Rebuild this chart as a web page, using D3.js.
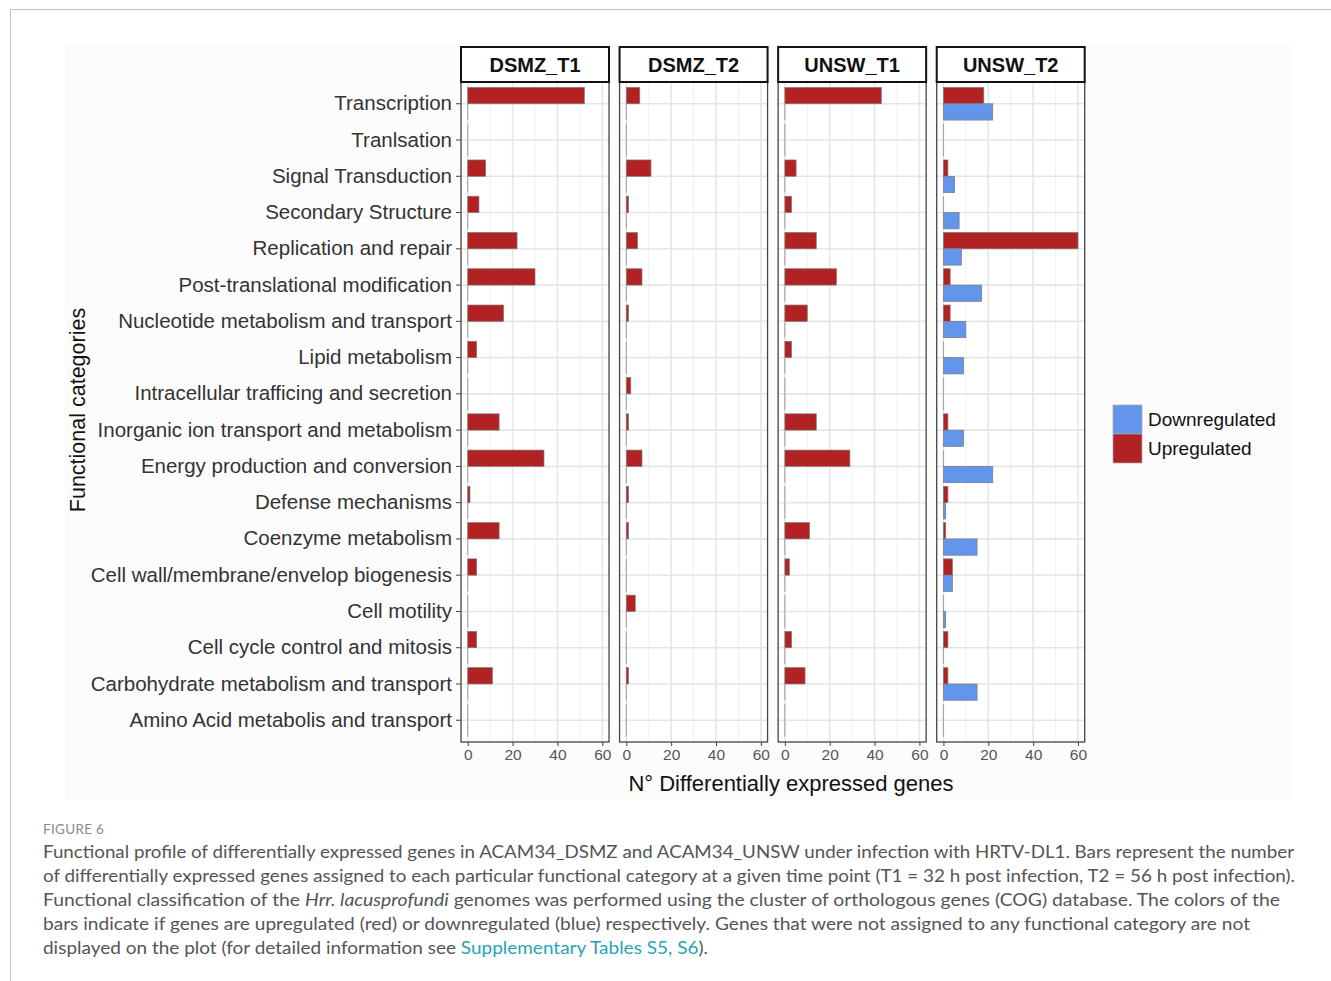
<!DOCTYPE html>
<html>
<head>
<meta charset="utf-8">
<script src="https://cdn.jsdelivr.net/npm/d3@7"></script>
<style>
  body { margin: 0; background: #fff; }
  svg { display: block; }
</style>
</head>
<body>
<svg id="chart" width="1331" height="981"></svg>
<script>
// categories, top to bottom as drawn
const categories = [
  "Transcription", "Tranlsation", "Signal Transduction", "Secondary Structure",
  "Replication and repair", "Post-translational modification",
  "Nucleotide metabolism and transport", "Lipid metabolism",
  "Intracellular trafficing and secretion", "Inorganic ion transport and metabolism",
  "Energy production and conversion", "Defense mechanisms", "Coenzyme metabolism",
  "Cell wall/membrane/envelop biogenesis", "Cell motility",
  "Cell cycle control and mitosis", "Carbohydrate metabolism and transport",
  "Amino Acid metabolis and transport"
];
const panels = ["DSMZ_T1", "DSMZ_T2", "UNSW_T1", "UNSW_T2"];
const groups = ["Upregulated", "Downregulated"];
const xTicks = [0, 20, 40, 60];

// values per panel, same order as categories
const dsmzT1Up   = [52, 0, 8, 5, 22, 30, 16, 4, 0, 14, 34, 1, 14, 4, 0, 4, 11, 0];
const dsmzT1Down = [0, 0, 0, 0, 0, 0, 0, 0, 0, 0, 0, 0, 0, 0, 0, 0, 0, 0];
const dsmzT2Up   = [6, 0, 11, 1, 5, 7, 1, 0, 2, 1, 7, 1, 1, 0, 4, 0, 1, 0];
const dsmzT2Down = [0, 0, 0, 0, 0, 0, 0, 0, 0, 0, 0, 0, 0, 0, 0, 0, 0, 0];
const unswT1Up   = [43, 0, 5, 3, 14, 23, 10, 3, 0, 14, 29, 0, 11, 2, 0, 3, 9, 0];
const unswT1Down = [0, 0, 0, 0, 0, 0, 0, 0, 0, 0, 0, 0, 0, 0, 0, 0, 0, 0];
const unswT2Up   = [18, 0, 2, 0, 60, 3, 3, 0, 0, 2, 0, 2, 1, 4, 0, 2, 2, 0];
const unswT2Down = [22, 0, 5, 7, 8, 17, 10, 9, 0, 9, 22, 1, 15, 4, 1, 0, 15, 0];

const seriesByPanel = {
  DSMZ_T1: { Upregulated: dsmzT1Up, Downregulated: dsmzT1Down },
  DSMZ_T2: { Upregulated: dsmzT2Up, Downregulated: dsmzT2Down },
  UNSW_T1: { Upregulated: unswT1Up, Downregulated: unswT1Down },
  UNSW_T2: { Upregulated: unswT2Up, Downregulated: unswT2Down }
};

const colors = { Upregulated: "#b22222", Downregulated: "#6495ed" };
const font = "'Liberation Sans', Arial, sans-serif";

const svg = d3.select("#chart");

// outer frame lines of the figure page
svg.append("line").attr("x1", 10).attr("x2", 1331).attr("y1", 9.5).attr("y2", 9.5)
  .attr("stroke", "#c4c4c4");
svg.append("line").attr("x1", 10.5).attr("x2", 10.5).attr("y1", 9).attr("y2", 981)
  .attr("stroke", "#c4c4c4");

// faint plot background
svg.append("rect").attr("x", 65).attr("y", 44).attr("width", 1225).attr("height", 756)
  .attr("fill", "#fcfcfc");

const panelTop = 82, panelBottom = 742, panelW = 148;
const panelX = d3.scaleBand().domain(panels).range([461, 1084.5]).paddingInner(0.068);

const y = d3.scaleBand().domain(categories).range([panelTop, panelBottom])
  .paddingInner(0.1).paddingOuter(0.15);
const yInner = d3.scaleBand().domain(groups).range([0, y.bandwidth()]);
const x = d3.scaleLinear().domain([-3, 63]).range([0, panelW]);

panels.forEach(p => {
  const g = svg.append("g").attr("transform", `translate(${panelX(p)},0)`);

  g.append("rect").attr("x", 0).attr("y", panelTop).attr("width", panelW)
    .attr("height", panelBottom - panelTop).attr("fill", "#fff");

  // minor grid
  g.selectAll(".minor").data([10, 30, 50]).join("line")
    .attr("x1", d => x(d)).attr("x2", d => x(d))
    .attr("y1", panelTop).attr("y2", panelBottom)
    .attr("stroke", "#f0f0f0").attr("stroke-width", 1);
  // major grid
  g.selectAll(".major").data(xTicks).join("line")
    .attr("x1", d => x(d)).attr("x2", d => x(d))
    .attr("y1", panelTop).attr("y2", panelBottom)
    .attr("stroke", "#e6e6e6").attr("stroke-width", 1.6);
  g.selectAll(".hgrid").data(categories).join("line")
    .attr("x1", 0).attr("x2", panelW)
    .attr("y1", d => y(d) + y.bandwidth() / 2).attr("y2", d => y(d) + y.bandwidth() / 2)
    .attr("stroke", "#e6e6e6").attr("stroke-width", 1.6);

  // bars
  groups.forEach(grp => {
    const vals = seriesByPanel[p][grp];
    const rows = categories.map((c, i) => ({ c, v: vals[i] }));
    g.selectAll(null).data(rows.filter(d => d.v > 0)).join("rect")
      .attr("x", x(0))
      .attr("y", d => y(d.c) + yInner(grp))
      .attr("width", d => x(d.v) - x(0))
      .attr("height", yInner.bandwidth())
      .attr("fill", colors[grp])
      .attr("stroke", "#7a7a7a")
      .attr("stroke-width", 0.7);
    // zero-length bars only show their outline
    g.selectAll(null).data(rows.filter(d => d.v === 0)).join("line")
      .attr("x1", x(0)).attr("x2", x(0))
      .attr("y1", d => y(d.c) + yInner(grp))
      .attr("y2", d => y(d.c) + yInner(grp) + yInner.bandwidth())
      .attr("stroke", "#a0a0a0")
      .attr("stroke-width", 1);
  });

  // panel border
  g.append("rect").attr("x", 0).attr("y", panelTop).attr("width", panelW)
    .attr("height", panelBottom - panelTop).attr("fill", "none")
    .attr("stroke", "#444").attr("stroke-width", 1.3);

  // strip
  g.append("rect").attr("x", 0).attr("y", 47).attr("width", panelW).attr("height", 35)
    .attr("fill", "#fff").attr("stroke", "#111").attr("stroke-width", 2);
  g.append("text").attr("x", panelW / 2).attr("y", 72).attr("text-anchor", "middle")
    .attr("font-family", font).attr("font-weight", "bold").attr("font-size", 20)
    .attr("fill", "#111").text(p);

  // x axis
  const ax = g.append("g").attr("transform", `translate(0,${panelBottom})`)
    .call(d3.axisBottom(x).tickValues(xTicks).tickSize(4).tickPadding(3));
  ax.select(".domain").remove();
  ax.selectAll(".tick line").attr("stroke", "#444");
  ax.selectAll(".tick text").attr("font-family", font).attr("font-size", 15.5)
    .attr("fill", "#555");
});

// y axis on the first panel
const ay = svg.append("g").attr("transform", `translate(${panelX(panels[0])},0)`)
  .call(d3.axisLeft(y).tickSize(5).tickPadding(4));
ay.select(".domain").remove();
ay.selectAll(".tick line").attr("stroke", "#444");
ay.selectAll(".tick text").attr("font-family", font).attr("font-size", 20.5)
  .attr("fill", "#333");

// axis titles
svg.append("text").attr("x", 791).attr("y", 791).attr("text-anchor", "middle")
  .attr("font-family", font).attr("font-size", 22).attr("fill", "#111")
  .text("N° Differentially expressed genes");
svg.append("text").attr("transform", "translate(85,410) rotate(-90)")
  .attr("text-anchor", "middle").attr("font-family", font).attr("font-size", 21.5)
  .attr("fill", "#111").text("Functional categories");

// legend
const legendItems = ["Downregulated", "Upregulated"];
const lg = svg.append("g").attr("transform", "translate(1113,405)");
legendItems.forEach((k, i) => {
  lg.append("rect").attr("x", 0).attr("y", i * 29).attr("width", 29).attr("height", 29)
    .attr("fill", colors[k]).attr("stroke", "#aaa").attr("stroke-width", 0.7);
  lg.append("text").attr("x", 35).attr("y", i * 29 + 21).attr("font-family", font)
    .attr("font-size", 19).attr("fill", "#111").text(k);
});

// caption
const capFont = "Lato, 'Open Sans', sans-serif";
svg.append("text").attr("x", 43).attr("y", 834).attr("font-family", capFont)
  .attr("font-size", 13.5).attr("fill", "#8a8a8a").attr("letter-spacing", 0.3)
  .text("FIGURE 6");

const captionLines = [
  [{ t: "Functional profile of differentially expressed genes in ACAM34_DSMZ and ACAM34_UNSW under infection with HRTV-DL1. Bars represent the number" }],
  [{ t: "of differentially expressed genes assigned to each particular functional category at a given time point (T1 = 32 h post infection, T2 = 56 h post infection)." }],
  [{ t: "Functional classification of the " }, { t: "Hrr. lacusprofundi", i: true },
   { t: " genomes was performed using the cluster of orthologous genes (COG) database. The colors of the" }],
  [{ t: "bars indicate if genes are upregulated (red) or downregulated (blue) respectively. Genes that were not assigned to any functional category are not" }],
  [{ t: "displayed on the plot (for detailed information see " }, { t: "Supplementary Tables S5, S6", link: true }, { t: ")." }]
];
const lineEnds = [1294, 1295, 1280, 1250, 708];

captionLines.forEach((parts, i) => {
  const t = svg.append("text").attr("x", 43).attr("y", 858 + i * 24)
    .attr("font-family", capFont).attr("font-size", 17.5).attr("fill", "#555")
    .attr("textLength", lineEnds[i] - 43).attr("lengthAdjust", "spacingAndGlyphs");
  parts.forEach(pt => {
    const s = t.append("tspan").text(pt.t);
    if (pt.i) s.attr("font-style", "italic");
    if (pt.link) s.attr("fill", "#1fa5b8");
  });
});
</script>
</body>
</html>
